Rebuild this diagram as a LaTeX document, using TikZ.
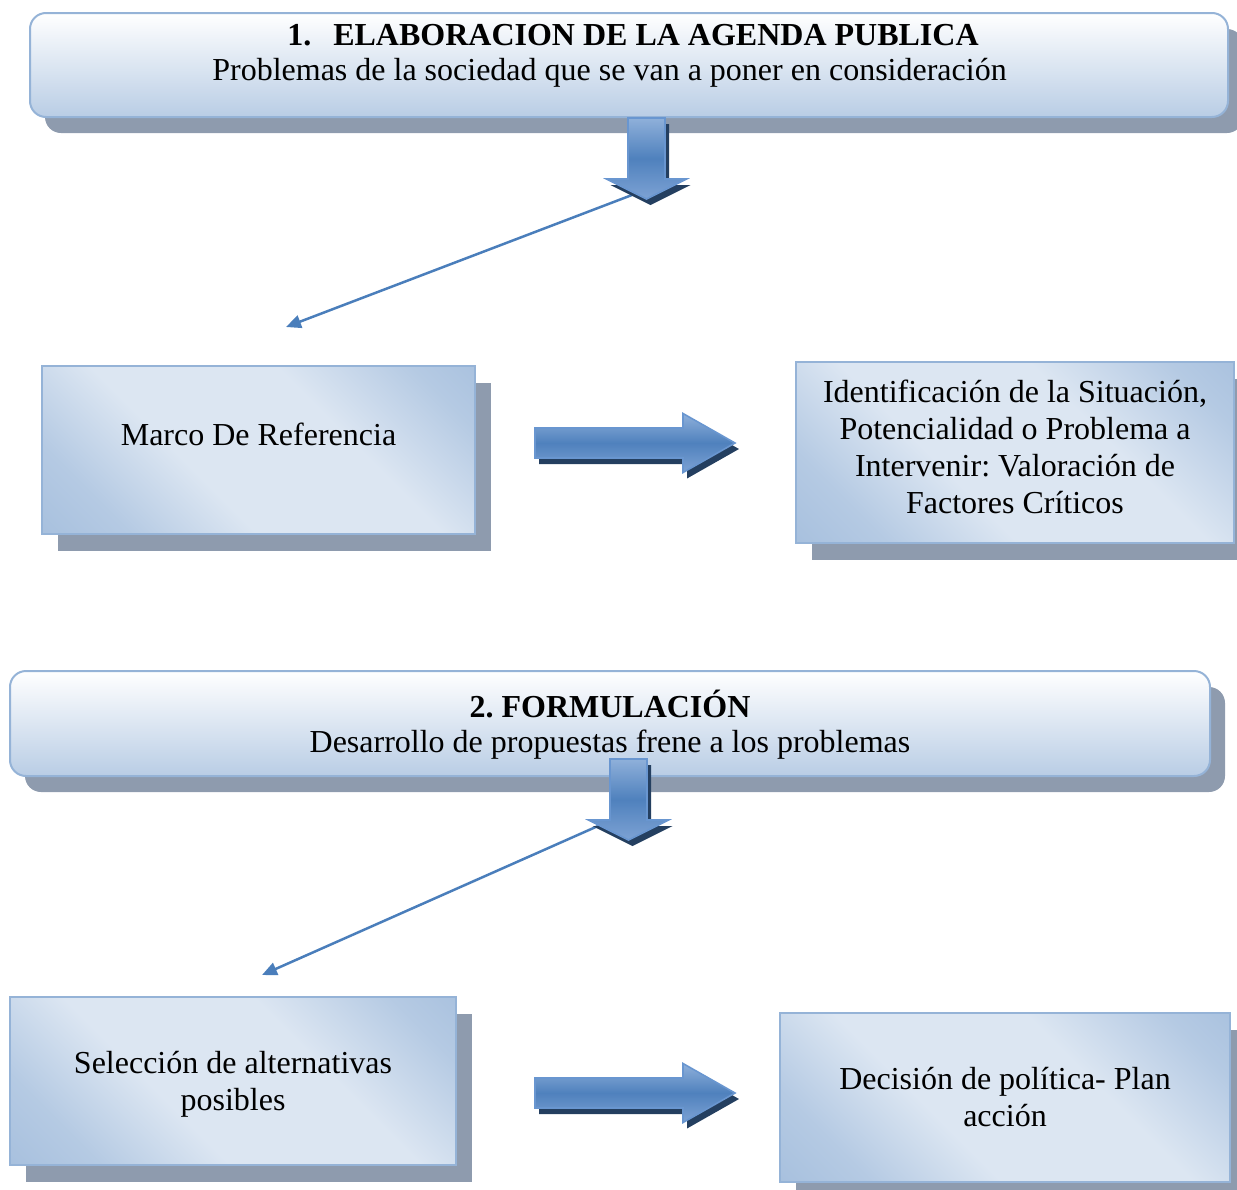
\documentclass[tikz,border=0pt]{standalone}
\usepackage{fontspec}
\setmainfont{Liberation Serif}
\usetikzlibrary{shadows,arrows.meta}
\frenchspacing

\definecolor{boxline}{RGB}{149,179,215}
\definecolor{boxdark}{RGB}{149,179,215}
\definecolor{boxlight}{RGB}{220,230,242}
\definecolor{roundbottom}{RGB}{185,205,229}
\definecolor{shadowgray}{RGB}{142,155,174}
\definecolor{arrowtop}{RGB}{143,176,218}
\definecolor{arrowmid}{RGB}{79,129,189}
\definecolor{arrowbot}{RGB}{125,162,212}
\definecolor{arrowline}{RGB}{105,150,208}
\definecolor{arrowshadow}{RGB}{36,63,96}
\definecolor{linkblue}{RGB}{74,126,187}

% light band across the step boxes
\pgfdeclareverticalshading{stepshade}{100bp}{color(0bp)=(boxdark); color(25bp)=(boxdark!55!boxlight);
    color(40bp)=(boxlight); color(62bp)=(boxlight); color(78bp)=(boxdark!55!boxlight); color(100bp)=(boxdark)}

\begin{document}
\begin{tikzpicture}[x=0.5pt, y=-0.5pt,
    stagebox/.style={draw=boxline, line width=1pt, rounded corners=8pt, top color=white, bottom color=roundbottom,
        minimum width=599pt, minimum height=52pt, inner sep=0pt,
        drop shadow={shadow xshift=7.5pt, shadow yshift=-8pt, fill=shadowgray, opacity=1}},
    stagetitle/.style={font=\fontsize{16}{18.5}\selectfont\bfseries, inner sep=0pt},
    stagetext/.style={font=\fontsize{16}{18.5}\selectfont, inner sep=0pt},
    stepbox/.style={draw=boxline, line width=1pt, shading=stepshade, shading angle=-45,
        align=center, inner sep=0pt, font=\fontsize{16}{18.5}\selectfont,
        drop shadow={shadow xshift=8pt, shadow yshift=-8.5pt, fill=shadowgray, opacity=1}},
    blockarrow/.style={draw=arrowline, line width=0.8pt, top color=arrowtop, bottom color=arrowbot, middle color=arrowmid,
        drop shadow={shadow xshift=2pt, shadow yshift=-3pt, fill=arrowshadow, opacity=1}},
    link/.style={draw=linkblue, line width=1.25pt, -{Triangle[length=7.5pt, width=6.5pt]}}]

    \useasboundingbox (0,0) rectangle (1237,1189);

    % Stage 1
    \node[stagebox] (agenda) at (629,65) {};
    \node[stagetitle, anchor=base] (agendatit) at (633,45) {1.\hspace{11pt}ELABORACION DE LA AGENDA PUBLICA};
    \node[stagetext, anchor=base] (agendasub) at (609.5,80) {Problemas de la sociedad que se van a poner en consideración};

    \node[stepbox, minimum width=216.5pt, minimum height=84pt, text depth=16pt] (marco) at (258.5,450) {Marco De Referencia};
    \node[stepbox, minimum width=219pt, minimum height=90.5pt, text depth=5.5pt] (ident) at (1015,452.5)
        {Identificación de la Situación,\\ Potencialidad o Problema a\\ Intervenir: Valoración de\\ Factores Críticos};

    % Stage 2
    \node[stagebox, minimum width=600pt, minimum height=52.5pt] (formul) at (610,723.5) {};
    \node[stagetitle, anchor=base] (formultit) at (610,717) {2. FORMULACIÓN};
    \node[stagetext, anchor=base] (formulsub) at (610,752) {Desarrollo de propuestas frene a los problemas};

    \node[stepbox, minimum width=223pt, minimum height=84pt, text depth=-3pt] (seleccion) at (233,1081) {Selección de alternativas\\ posibles};
    \node[stepbox, minimum width=225pt, minimum height=84.5pt] (decision) at (1005,1097.5) {Decisión de política- Plan\\ acción};

    % Thin links
    \coordinate (linkA) at (632,195);
    \coordinate (endA) at (286,327);
    \coordinate (linkB) at (598,826);
    \coordinate (endB) at (262,975);
    \draw[link] (linkA) -- (endA);
    \draw[link] (linkB) -- (endB);

    % Down arrows
    \foreach \cx/\ty in {646.5/118, 628.5/759}
        \path[blockarrow] (\cx-18.5,\ty) -- (\cx+18.5,\ty) -- (\cx+18.5,\ty+61) -- (\cx+40,\ty+61)
            -- (\cx,\ty+81) -- (\cx-40,\ty+61) -- (\cx-18.5,\ty+61) -- cycle;

    % Right arrows
    \foreach \lx/\cy in {535/443, 535/1093}
        \path[blockarrow] (\lx,\cy-15) -- (\lx+148,\cy-15) -- (\lx+148,\cy-29.5) -- (\lx+200,\cy)
            -- (\lx+148,\cy+29.5) -- (\lx+148,\cy+15) -- (\lx,\cy+15) -- cycle;
\end{tikzpicture}
\end{document}
